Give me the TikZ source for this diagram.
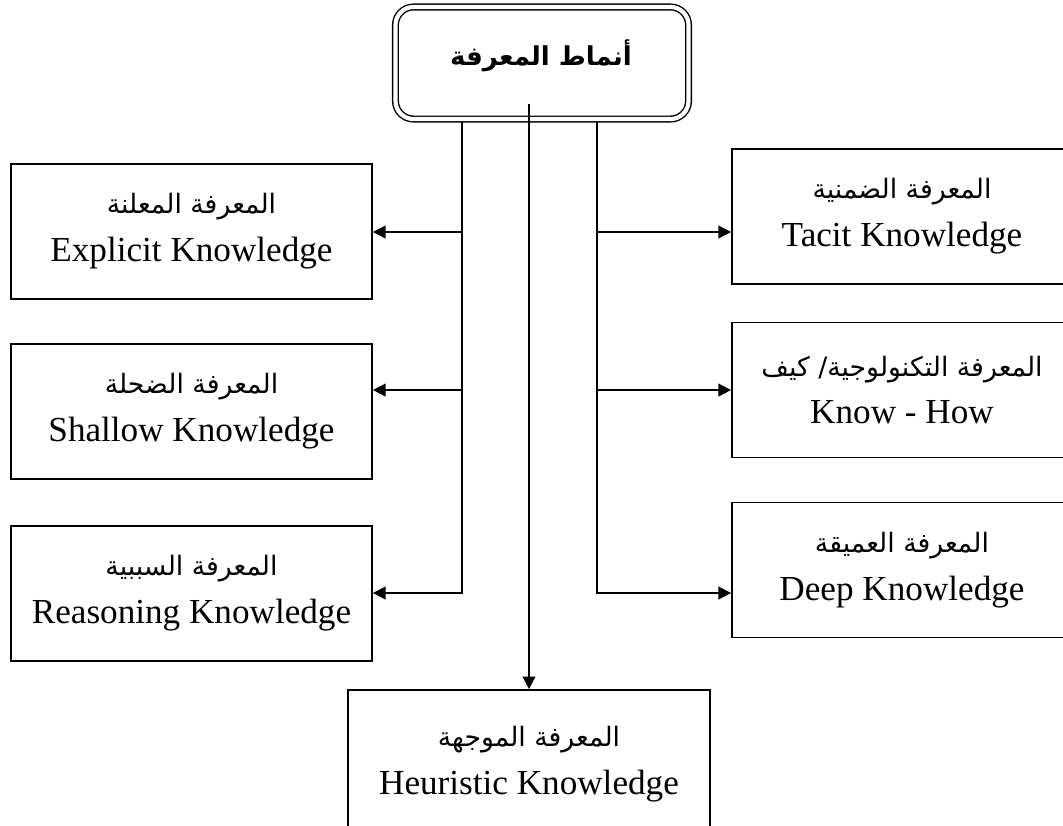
\documentclass[tikz,border=0pt]{standalone}
\usepackage{fontspec}
\usepackage{tikz}
\usepackage{xcolor}
\usetikzlibrary{arrows.meta}
\setmainfont{Liberation Serif}
\newfontfamily\arabicfont[Script=Arabic]{DejaVu Sans}
\TeXXeTstate=1
\newcommand{\arabtext}[1]{{\arabicfont\fontsize{19}{22}\selectfont\beginR #1\endR}}

\begin{document}
\begin{tikzpicture}[x=0.025cm, y=-0.025cm,
	box/.style={draw, line width=1.2pt, align=center, minimum height=3.375cm, font=\fontsize{25}{34}\selectfont},
	link/.style={line width=1.2pt, -{Triangle[length=9pt, width=9pt]}}]
		\useasboundingbox (0,0) rectangle (1063,825);
		\clip (0,0) rectangle (1063,825);
		\node [draw, line width=1pt, double, double distance=3pt, rounded corners=0.45cm, minimum width=7.325cm, minimum height=2.8cm] (0) at (542,63) {};
		\node at (541,56) {\arabicfont\bfseries\fontsize{18.5}{22}\selectfont\beginR أنماط المعرفة\endR};
		\node [box, minimum width=9.025cm] (1) at (191.5,231.5) {\arabtext{المعرفة المعلنة}\\Explicit Knowledge};
		\node [box, minimum width=9.025cm] (2) at (191.5,411.5) {\arabtext{المعرفة الضحلة}\\Shallow Knowledge};
		\node [box, minimum width=9.025cm] (3) at (191.5,593.5) {\arabtext{المعرفة السببية}\\Reasoning Knowledge};
		\node [box, minimum width=9.6cm] (4) at (924,216.5) {\arabtext{المعرفة الضمنية}\hspace*{1.1cm}\\Tacit Knowledge\hspace*{1.1cm}};
		\node [box, minimum width=9.6cm] (5) at (924,390) {\arabtext{المعرفة التكنولوجية/ كيف}\hspace*{1.1cm}\\Know - How\hspace*{1.1cm}};
		\node [box, minimum width=9.6cm] (6) at (924,570) {\arabtext{المعرفة العميقة}\hspace*{1.1cm}\\Deep Knowledge\hspace*{1.1cm}};
		\node [box, minimum width=9.05cm, minimum height=3.7cm] (7) at (529,764) {\arabtext{المعرفة الموجهة}\\Heuristic Knowledge};
		\coordinate (l) at (462,122);
		\coordinate (r) at (597,122);
		\coordinate (c) at (529,104);
		\coordinate (y1) at (0,232);
		\coordinate (y2) at (0,390);
		\coordinate (y3) at (0,593);
		\draw [link] (l) |- (3.east |- y3);
		\draw [link] (l |- y1) -- (1.east |- y1);
		\draw [link] (l |- y2) -- (2.east |- y2);
		\draw [link] (r) |- (6.west |- y3);
		\draw [link] (r |- y1) -- (4.west |- y1);
		\draw [link] (r |- y2) -- (5.west |- y2);
		\draw [link] (c) -- (7.north);
	\end{tikzpicture}
\end{document}
